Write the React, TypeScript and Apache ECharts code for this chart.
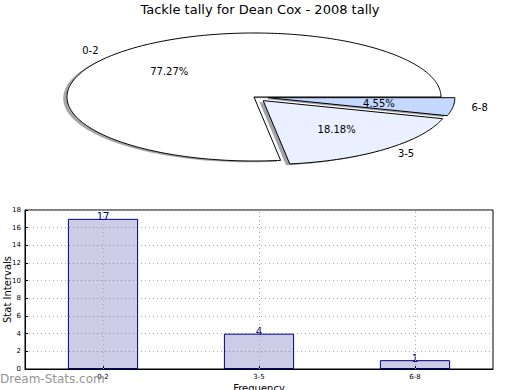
import React, { useEffect, useRef } from "react";
import * as echarts from "echarts";

const title = "Tackle tally for Dean Cox - 2008 tally";
const categories = ["0-2", "3-5", "6-8"];
const values = [17, 4, 1];
const pieColors = ["#ffffff", "#eaf0ff", "#c5d8ff"];
const explode = [0, 0.075, 0.075];
const yTicksMax = 18;

const FONT = "DejaVu Sans, sans-serif";
const CX = 254;
const CY = 97;
const RX = 187;
const RY = 64;

function sliceGeom(i: number) {
  const total = values.reduce((a, b) => a + b, 0);
  let before = 0;
  for (let k = 0; k < i; k++) before += values[k];
  const a0 = (before / total) * Math.PI * 2;
  const a1 = ((before + values[i]) / total) * Math.PI * 2;
  const mid = (a0 + a1) / 2;
  const cx = CX + explode[i] * RX * Math.cos(mid);
  const cy = CY - explode[i] * RY * Math.sin(mid);
  const pts: number[][] = [[cx, cy]];
  const n = Math.max(4, Math.ceil(((a1 - a0) * 180) / Math.PI));
  for (let s = 0; s <= n; s++) {
    const t = a0 + ((a1 - a0) * s) / n;
    pts.push([cx + RX * Math.cos(t), cy - RY * Math.sin(t)]);
  }
  return { pts, mid, cx, cy, pct: (values[i] / total) * 100 };
}

function shadowColor(hex: string) {
  const r = parseInt(hex.slice(1, 3), 16);
  const g = parseInt(hex.slice(3, 5), 16);
  const b = parseInt(hex.slice(5, 7), 16);
  return `rgba(${Math.round(r * 0.3)},${Math.round(g * 0.3)},${Math.round(b * 0.3)},0.5)`;
}

export default function App() {
  const ref = useRef<HTMLDivElement>(null);
  useEffect(() => {
    document.body.style.margin = "0";
    const chart = echarts.init(ref.current!, null, { renderer: "svg" });
    const pieData = values.map((v, i) => ({ value: v, name: categories[i] }));
    chart.setOption({
      animation: false,
      title: {
        text: title,
        left: "center",
        top: -2,
        textStyle: { fontFamily: FONT, fontSize: 13, fontWeight: "normal", color: "#000" },
      },
      grid: {
        left: 25,
        right: 27,
        top: 210,
        bottom: 21,
        containLabel: false,
        outerBoundsMode: "none",
        show: true,
        borderColor: "#000",
        borderWidth: 1,
      },
      xAxis: {
        type: "category",
        data: categories,
        boundaryGap: true,
        name: "Frequency",
        nameLocation: "middle",
        nameGap: 14,
        nameMoveOverlap: false,
        nameTextStyle: { fontFamily: FONT, fontSize: 10, color: "#000" },
        axisLine: { lineStyle: { color: "#000", width: 1 } },
        axisTick: { show: true, inside: true, alignWithLabel: true, length: 3, lineStyle: { color: "#000" } },
        axisLabel: { fontFamily: FONT, fontSize: 7, color: "#000", margin: 4 },
        splitLine: { show: false },
      },
      yAxis: {
        type: "value",
        min: 0,
        max: yTicksMax,
        interval: 2,
        name: "Stat Intervals",
        nameLocation: "middle",
        nameGap: 13,
        nameMoveOverlap: false,
        nameTextStyle: { fontFamily: FONT, fontSize: 10, color: "#000" },
        axisLine: { show: true, lineStyle: { color: "#000", width: 1 } },
        axisTick: { show: true, inside: true, length: 3, lineStyle: { color: "#000" } },
        axisLabel: { fontFamily: FONT, fontSize: 7, color: "#000", margin: 4 },
        splitLine: { show: true, lineStyle: { color: "#aaaaaa", type: [1, 3], width: 1 } },
      },
      graphic: [
        {
          type: "text",
          left: 0,
          top: 373,
          z: 100,
          style: {
            text: "Dream-Stats.com",
            fontFamily: FONT,
            fontSize: 12,
            fontWeight: "normal",
            fill: "rgba(140,140,140,0.95)",
          },
        },
      ],
      series: [
        {
          type: "bar",
          data: values,
          barWidth: "45%",
          itemStyle: { color: "rgba(0,0,128,0.2)", borderColor: "#000080", borderWidth: 1 },
          label: {
            show: true,
            position: "top",
            distance: -3,
            fontFamily: FONT,
            fontSize: 10,
            color: "#000080",
          },
          markLine: {
            silent: true,
            symbol: "none",
            label: { show: false },
            lineStyle: { color: "#aaaaaa", type: [1, 3], width: 1 },
            data: categories.map((c) => ({ xAxis: c })),
          },
        },
        {
          type: "custom",
          coordinateSystem: "none",
          data: pieData,
          z: 1,
          renderItem: (params: any) => {
            const i = params.dataIndex;
            const g = sliceGeom(i);
            return {
              type: "polygon",
              x: -0.02 * RX,
              y: 0.02 * RY,
              shape: { points: g.pts },
              style: { fill: shadowColor(pieColors[i]), stroke: "none" },
            };
          },
        },
        {
          type: "custom",
          coordinateSystem: "none",
          data: pieData,
          z: 2,
          renderItem: (params: any) => {
            const i = params.dataIndex;
            const g = sliceGeom(i);
            const cosm = Math.cos(g.mid);
            const sinm = Math.sin(g.mid);
            return {
              type: "group",
              children: [
                {
                  type: "polygon",
                  shape: { points: g.pts },
                  style: { fill: pieColors[i], stroke: "#000", lineWidth: 1 },
                },
                {
                  type: "text",
                  x: g.cx + 1.1 * RX * cosm,
                  y: g.cy - 1.1 * RY * sinm,
                  style: {
                    text: categories[i],
                    fontFamily: FONT,
                    fontSize: 10,
                    fill: "#000",
                    align: cosm > 0 ? "left" : "right",
                    verticalAlign: "middle",
                  },
                },
                {
                  type: "text",
                  x: g.cx + 0.6 * RX * cosm,
                  y: g.cy - 0.6 * RY * sinm,
                  style: {
                    text: g.pct.toFixed(2) + "%",
                    fontFamily: FONT,
                    fontSize: 10,
                    fill: "#000",
                    align: "center",
                    verticalAlign: "middle",
                  },
                },
              ],
            };
          },
        },
      ],
    });
    return () => chart.dispose();
  }, []);
  return (
    <div
      ref={ref}
      style={{ position: "absolute", left: 0, top: 0, width: 520, height: 390 }}
    />
  );
}
